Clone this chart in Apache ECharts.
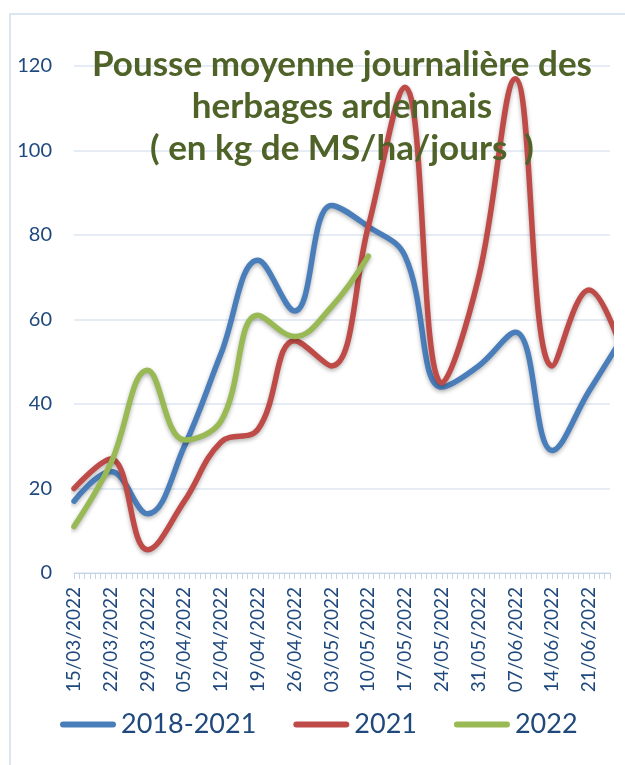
<!DOCTYPE html>
<html><head><meta charset="utf-8">
<script src="https://cdn.jsdelivr.net/npm/echarts@6/dist/echarts.min.js"></script>
<style>html,body{margin:0;padding:0;background:#fff}#c{width:625px;height:765px}</style>
</head><body><div id="c"></div>
<script>
// Weekly observation dates (last one lies past the visible axis end, clipped)
const dates = ['15/03/2022','22/03/2022','29/03/2022','05/04/2022','12/04/2022','19/04/2022','26/04/2022','03/05/2022','10/05/2022','17/05/2022','24/05/2022','31/05/2022','07/06/2022','14/06/2022','21/06/2022','28/06/2022'];
// Axis tick labels (every 7 days)
const tickLabels = ['15/03/2022','22/03/2022','29/03/2022','05/04/2022','12/04/2022','19/04/2022','26/04/2022','03/05/2022','10/05/2022','17/05/2022','24/05/2022','31/05/2022','07/06/2022','14/06/2022','21/06/2022'];
const seriesNames = ['2018-2021','2021','2022'];
const values1821 = [17, 24, 14, 30, 52, 74, 62, 87, 82, 75, 44, 49, 57, 29, 43, 57];
const values2021 = [20, 27, 5.5, 17, 31, 34, 55, 49, 82, 115, 45, 70, 117, 49, 67, 50];
const values2022 = [11, 26, 48, 31.5, 36, 61, 56, 63, 75];
const yTicks = [0, 20, 40, 60, 80, 100, 120];

function dayOffset(s){
  const p = s.split('/').map(Number);
  return Math.round((Date.UTC(p[2], p[1]-1, p[0]) - Date.UTC(2022, 2, 15)) / 86400000);
}
function toPairs(vals){ return vals.map((v,i)=>[dayOffset(dates[i]), v]); }

const colors = ['#4a7ebb', '#be4b48', '#98b954'];
const FONT = 'Lato';
const chart = echarts.init(document.getElementById('c'), null, {renderer:'canvas'});

function mkSeries(name, vals, color){
  return {
    name, type:'line', data: toPairs(vals), smooth: 0.4, showSymbol:false, symbol:'none',
    clip: true, color,
    lineStyle:{ width:5.5, color, cap:'round', join:'round',
      shadowColor:'rgba(0,0,0,0.30)', shadowBlur:4, shadowOffsetY:2 }
  };
}

chart.setOption({
  backgroundColor:'#ffffff',
  animation:false,
  graphic:[{type:'rect', silent:true, z:-10,
    shape:{x:10, y:14, width:700, height:820},
    style:{fill:'none', stroke:'#dce6f2', lineWidth:2}}],
  title:{
    text:'Pousse moyenne journalière des\nherbages ardennais\n( en kg de MS/ha/jours  )',
    left:337, top:39, textAlign:'center',
    textStyle:{fontFamily:FONT, fontWeight:'bold', fontSize:35, lineHeight:42, color:'#4f6228'}
  },
  legend:{
    data: seriesNames, left:60, top:711, padding:0, itemGap:37, itemWidth:56, itemHeight:6,
    icon:'path://M3,0 L53,0 A3,3 0 0 1 53,6 L3,6 A3,3 0 0 1 3,0 Z',
    textStyle:{fontFamily:FONT, fontSize:27, color:'#1f497d', padding:[0,0,0,0]}
  },
  grid:{left:74, right:15, top:66, bottom:192, containLabel:false},
  xAxis:{
    type:'value', min:0, max:102, interval:1,
    axisLine:{show:true, lineStyle:{color:'#c6d4e8', width:1}},
    axisTick:{show:true, length:6, lineStyle:{color:'#c6d4e8', width:1}},
    splitLine:{show:false},
    axisLabel:{
      rotate:90, margin:14, fontFamily:FONT, fontSize:19, color:'#1f497d',
      padding:[14,0,0,0],
      formatter:function(v){ const k=v/7; return (Number.isInteger(k) && k < tickLabels.length) ? tickLabels[k] : ''; }
    }
  },
  yAxis:{
    type:'value', min:yTicks[0], max:yTicks[yTicks.length-1], interval:20,
    axisLine:{show:false}, axisTick:{show:false},
    splitLine:{lineStyle:{color:'#dce6f2', width:1.5}},
    axisLabel:{fontFamily:FONT, fontSize:20, color:'#1f497d', margin:22}
  },
  series:[
    mkSeries(seriesNames[0], values1821, colors[0]),
    mkSeries(seriesNames[1], values2021, colors[1]),
    mkSeries(seriesNames[2], values2022, colors[2])
  ]
});
</script></body></html>
